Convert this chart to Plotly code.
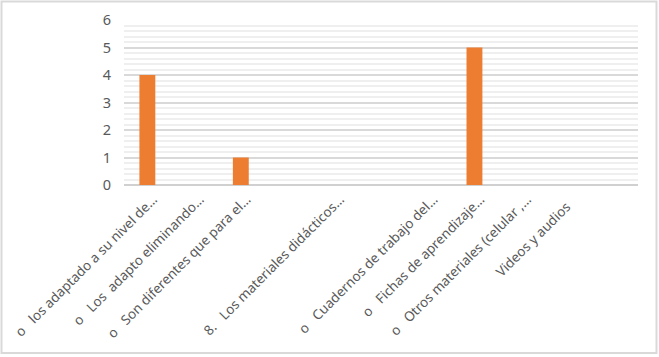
import plotly.graph_objects as go

NB = "\u00a0"
labels = [
    "o" + NB*3 + "los adaptado a su nivel de…",
    "o" + NB*3 + "Los" + NB*2 + "adapto eliminando…",
    "o" + NB*3 + "Son diferentes que para el…",
    "",
    "8." + NB*3 + "Los materiales didácticos…",
    "",
    "o" + NB*3 + "Cuadernos de trabajo del…",
    "o" + NB*3 + "Fichas de aprendizaje…",
    "o" + NB*3 + "Otros materiales (celular ,…",
    "Videos y audios" + NB*3,
    "",
]
values = [4, None, 1, None, None, None, None, 5, None, None, None]
yticks = [0, 1, 2, 3, 4, 5, 6]

W, H = 659, 357
ml, mr, mt, mb = 124, 21, 20, 172
pw, ph = W - ml - mr, H - mt - mb

x = list(range(len(labels)))
fig = go.Figure(go.Bar(x=x, y=values, marker=dict(color="#ED7D31", line=dict(width=0)), width=0.34))

font = "Noto Sans"
fig.update_layout(
    width=W, height=H,
    margin=dict(l=ml, r=mr, t=mt, b=mb),
    paper_bgcolor="white", plot_bgcolor="white",
    showlegend=False,
    font=dict(family=font, color="#595959"),
    xaxis=dict(
        tickmode="array", tickvals=x, ticktext=labels, tickangle=-45,
        range=[-0.5, len(labels) - 0.5], showgrid=False, zeroline=False,
        showline=False, ticks="", tickfont=dict(size=13.5, family=font, color="#595959"),
        ticklabelstandoff=3, ticklabelshift=6, automargin=False,
    ),
    yaxis=dict(
        range=[0, 6], tickvals=yticks, showgrid=True, gridcolor="#D9D9D9", gridwidth=1.5,
        zeroline=True, zerolinecolor="#D0D0D0", zerolinewidth=1.5,
        minor=dict(dtick=0.2, showgrid=True, gridcolor="#EFEFEF", gridwidth=1.5),
        tickfont=dict(size=14.5, family=font, color="#595959"),
        ticklabelstandoff=12, automargin=False,
    ),
    shapes=[dict(
        type="rect", xref="paper", yref="paper",
        x0=(1.5 - ml) / pw, x1=(W - 2.5 - ml) / pw,
        y0=-(H - 4 - mt - ph) / ph,
        y1=1 + (mt - 1.5) / ph,
        line=dict(color="#D9D9D9", width=2), layer="below",
    )],
)
fig.write_html("out.html")
